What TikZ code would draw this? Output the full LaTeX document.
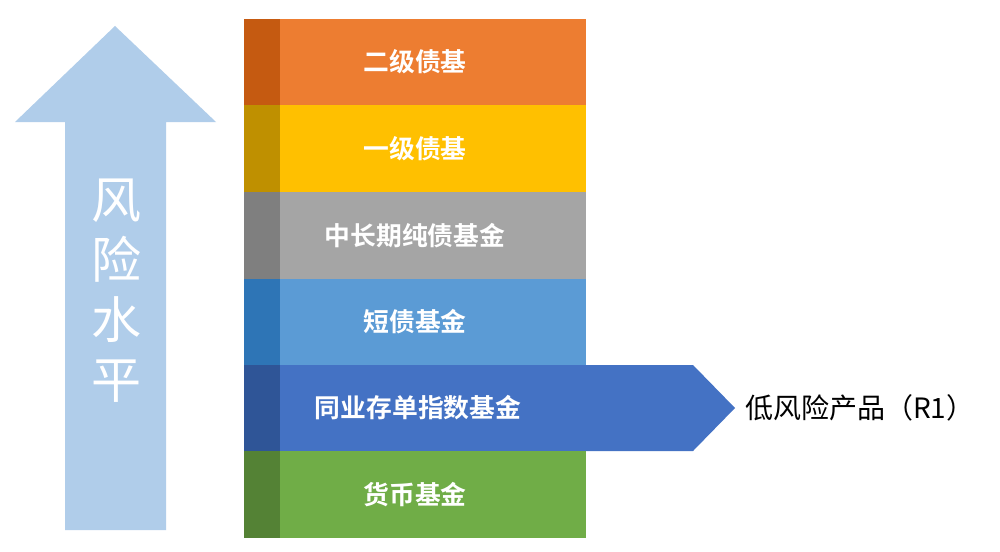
\documentclass[tikz,border=0pt]{standalone}
\usepackage{fontspec}
\newfontfamily\cjk[BoldFont={Noto Sans CJK SC Bold}]{Noto Sans CJK SC}
\definecolor{arrowc}{HTML}{B0CDEA}
\definecolor{c1}{HTML}{ED7D31}\definecolor{d1}{HTML}{C55A11}
\definecolor{c2}{HTML}{FFC000}\definecolor{d2}{HTML}{BF9000}
\definecolor{c3}{HTML}{A5A5A5}\definecolor{d3}{HTML}{7F7F7F}
\definecolor{c4}{HTML}{5B9BD5}\definecolor{d4}{HTML}{2E75B6}
\definecolor{c5}{HTML}{4472C4}\definecolor{d5}{HTML}{2F5597}
\definecolor{c6}{HTML}{70AD47}\definecolor{d6}{HTML}{548235}
\tikzset{
  barlabel/.style={text=white, font=\cjk\bfseries\fontsize{25.8}{30}\selectfont, inner sep=0pt},
  sidelabel/.style={text=black, font=\cjk\fontsize{28}{32}\selectfont, inner sep=0pt, anchor=west},
  axislabel/.style={text=white, font=\cjk\fontsize{50}{60}\selectfont, align=center, inner sep=0pt}
}
\begin{document}
\begin{tikzpicture}[x=1pt,y=-1pt]
\useasboundingbox (0,0) rectangle (1000,551);
\fill[white] (0,0) rectangle (1000,551);
% risk arrow
\fill[arrowc] (115,26) -- (216,122) -- (166,122) -- (166,530) -- (65,530) -- (65,122) -- (15,122) -- cycle;
\node[axislabel] (axis) at (116,291) {风\\险\\水\\平};
% rows
\fill[c1] (280,19) rectangle (586,105);  \fill[d1] (244,19) rectangle (280,105);
\fill[c2] (280,105) rectangle (586,192); \fill[d2] (244,105) rectangle (280,192);
\fill[c3] (280,192) rectangle (586,279); \fill[d3] (244,192) rectangle (280,279);
\fill[c4] (280,279) rectangle (586,365); \fill[d4] (244,279) rectangle (280,365);
\fill[c5] (280,365) -- (693,365) -- (735,408) -- (693,451) -- (280,451) -- cycle;
\fill[d5] (244,365) rectangle (280,451);
\fill[c6] (280,451) rectangle (586,538); \fill[d6] (244,451) rectangle (280,538);
\node[barlabel] (r1) at (415,62) {二级债基};
\node[barlabel] (r2) at (415,149) {一级债基};
\node[barlabel] (r3) at (415,236) {中长期纯债基金};
\node[barlabel] (r4) at (415,322) {短债基金};
\node[barlabel] (r5) at (418,408) {同业存单指数基金};
\node[barlabel] (r6) at (415,495) {货币基金};
\node[sidelabel] (low) at (745,408) {低风险产品（R1）};
\end{tikzpicture}
\end{document}
